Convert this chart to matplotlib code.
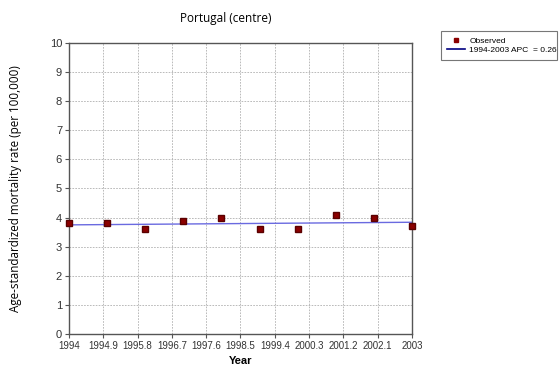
import numpy as np
import matplotlib.pyplot as plt
from matplotlib.lines import Line2D

years = [1994, 1995, 1996, 1997, 1998, 1999, 2000, 2001, 2002, 2003]
observed = [3.8, 3.8, 3.6, 3.9, 4.0, 3.6, 3.6, 4.1, 4.0, 3.7]
fit_years = [1994, 2003]
fit_values = [3.75, 3.84]
xticks = [1994, 1994.9, 1995.8, 1996.7, 1997.6, 1998.5, 1999.4, 2000.3, 2001.2, 2002.1, 2003]
xtick_labels = ['1994', '1994.9', '1995.8', '1996.7', '1997.6', '1998.5', '1999.4',
                '2000.3', '2001.2', '2002.1', '2003']

fig = plt.figure(figsize=(5.59, 3.70), dpi=100)
ax = fig.add_axes([0.1234, 0.0973, 0.6136, 0.7865])

ax.plot(fit_years, fit_values, color='#6a6ae0', lw=1.0, zorder=2)
ax.plot(years, observed, ls='none', marker='s', ms=4, color='#8b0000',
        mec='#5a0000', zorder=3, clip_on=False)

ax.set_xlim(1994, 2003)
ax.set_ylim(0, 10)
ax.set_xticks(xticks)
ax.set_xticklabels(xtick_labels)
ax.set_yticks(range(0, 11))
ax.grid(True, ls=(0, (2, 1.5)), color='#b0b0b0', lw=0.6)
for s in ax.spines.values():
    s.set_color('#555555')
    s.set_linewidth(1.0)
ax.tick_params(labelsize=7, length=3, color='#555555', pad=2)
for lbl in ax.get_xticklabels() + ax.get_yticklabels():
    lbl.set_family('Liberation Sans')
    lbl.set_color('#333333')
for lbl in ax.get_yticklabels():
    lbl.set_fontsize(8)

ax.set_xlabel('Year', fontsize=8, fontweight='bold', family='Liberation Sans', labelpad=4)
ax.set_ylabel('Age-standardized mortality rate (per 100,000)', fontsize=8.4,
              family='Open Sans', labelpad=20)
fig.text(0.403, 0.95, 'Portugal (centre)', fontsize=8.5, family='Open Sans',
         ha='center', va='center')

handles = [Line2D([], [], ls='none', marker='s', ms=3, color='#8b0000'),
           Line2D([], [], color='navy', lw=1.2)]
leg = fig.legend(handles, ['Observed', '1994-2003 APC  = 0.26'],
                 loc='upper left', bbox_to_anchor=(441 / 559, 1 - 35 / 370, 116 / 559, 0.01),
                 mode='expand',
                 prop={'family': 'Liberation Sans', 'size': 6},
                 frameon=True, fancybox=False, handlelength=2.2,
                 borderpad=0.7, labelspacing=0.15, handletextpad=0.5,
                 borderaxespad=0)
leg.get_frame().set_edgecolor('#555555')
leg.get_frame().set_linewidth(0.8)

fig.savefig('out.png', dpi=100)
